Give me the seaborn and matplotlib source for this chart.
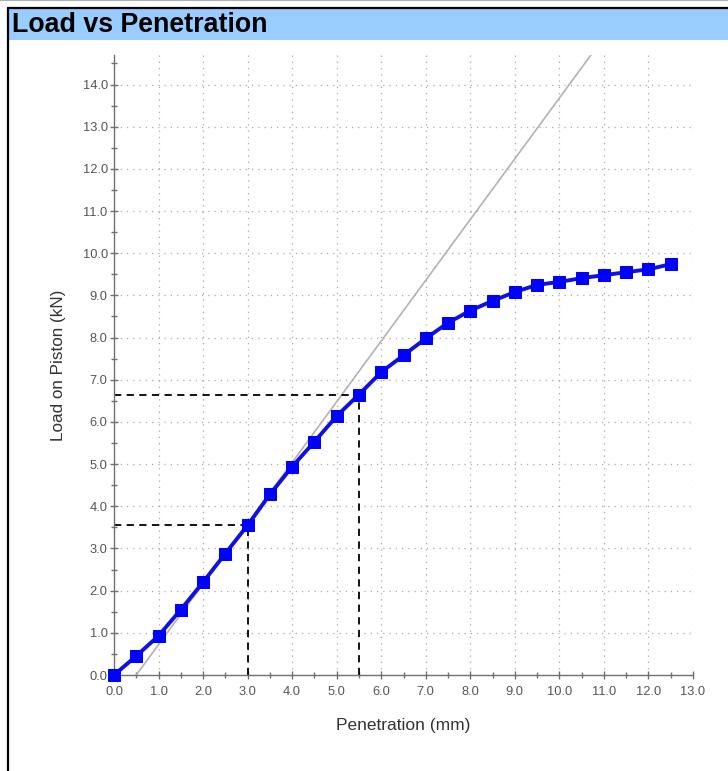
import matplotlib
matplotlib.use("Agg")
import matplotlib.pyplot as plt
from matplotlib.patches import Rectangle
from matplotlib.lines import Line2D
from matplotlib.ticker import MultipleLocator, FormatStrFormatter
import seaborn as sns
import pandas as pd

# Penetration readings (mm) and measured load on the piston (kN)
penetration = [0.0, 0.5, 1.0, 1.5, 2.0, 2.5, 3.0, 3.5, 4.0, 4.5, 5.0, 5.5, 6.0,
               6.5, 7.0, 7.5, 8.0, 8.5, 9.0, 9.5, 10.0, 10.5, 11.0, 11.5, 12.0, 12.5]
load = [0.0, 0.45, 0.93, 1.55, 2.2, 2.88, 3.55, 4.28, 4.94, 5.53, 6.14, 6.65, 7.18,
        7.58, 7.98, 8.35, 8.64, 8.87, 9.08, 9.25, 9.32, 9.41, 9.48, 9.55, 9.62, 9.74]

# Corrected tangent line (start and end points)
tangent_x = [0.5, 11.0]
tangent_y = [0.0, 15.12]

# Reference penetrations and the loads read at them
ref_pen = [3.0, 5.5]
ref_load = [3.55, 6.65]

sns.set_style("white")
plt.rcParams["font.family"] = ["Liberation Sans", "DejaVu Sans"]

df = pd.DataFrame({"Penetration (mm)": penetration, "Load on Piston (kN)": load})

fig = plt.figure(figsize=(7.28, 7.71), dpi=100)

# Panel frame and title bar
fig.add_artist(Line2D([0, 1], [0.9995, 0.9995], color="#b0b0b0", lw=1.5,
                      transform=fig.transFigure))
fig.add_artist(Rectangle((9 / 728, 1 - 40 / 771), 1, 31 / 771, transform=fig.transFigure,
                         facecolor="#99ccff", edgecolor="none"))
fig.add_artist(Line2D([8 / 728, 8 / 728], [0, 1 - 8 / 771], color="black", lw=1.6,
                      transform=fig.transFigure))
fig.add_artist(Line2D([8 / 728, 1], [1 - 8 / 771, 1 - 8 / 771], color="black", lw=1.6,
                      transform=fig.transFigure))
fig.text(12 / 728, 1 - 24.5 / 771, "Load vs Penetration", fontsize=19.3, fontweight="bold",
         va="center", ha="left", color="black")

ax = fig.add_axes([114 / 728, 1 - 675 / 771, (693 - 114) / 728, (675 - 55) / 771])

# Dotted grid at whole units
for gx in range(1, 14):
    ax.axvline(gx, color="#a8a8a8", lw=0.9, ls=(0, (1, 4)), zorder=0)
for gy in range(1, 15):
    ax.axhline(gy, color="#a8a8a8", lw=0.9, ls=(0, (1, 4)), zorder=0)

# Tangent line
ax.plot(tangent_x, tangent_y, color="#b8b0b0", lw=1.2, zorder=1)

# Dashed reference lines from the axes to the curve
for px, py in zip(ref_pen, ref_load):
    ax.plot([0, px], [py, py], color="black", lw=1.3, ls=(0, (4, 3)), zorder=2)
    ax.plot([px, px], [0, py], color="black", lw=1.3, ls=(0, (4, 3)), zorder=2)

sns.lineplot(data=df, x="Penetration (mm)", y="Load on Piston (kN)", ax=ax,
             color="#1010e0", lw=2.8, marker="s", markersize=8.5,
             markerfacecolor="#0000ff", markeredgecolor="#0000ff", zorder=3, clip_on=False)

ax.set_xlim(0, 13.0)
ax.set_ylim(0, 14.7)
ax.xaxis.set_major_locator(MultipleLocator(1.0))
ax.xaxis.set_minor_locator(MultipleLocator(0.5))
ax.yaxis.set_major_locator(MultipleLocator(1.0))
ax.yaxis.set_minor_locator(MultipleLocator(0.5))
ax.xaxis.set_major_formatter(FormatStrFormatter("%.1f"))
ax.yaxis.set_major_formatter(FormatStrFormatter("%.1f"))

for side in ("top", "right"):
    ax.spines[side].set_visible(False)
for side in ("left", "bottom"):
    ax.spines[side].set_color("#707070")
    ax.spines[side].set_linewidth(1.0)

ax.tick_params(which="both", direction="inout", color="#707070", width=1.0,
               labelcolor="#555555", labelsize=9.3, bottom=True, left=True)
ax.tick_params(axis="x", which="major", length=6, pad=5)
ax.tick_params(axis="y", which="major", length=6, pad=1.5)
ax.tick_params(which="minor", length=5)

ax.set_xlabel("Penetration (mm)", fontsize=12.5, color="#333333", labelpad=14)
ax.set_ylabel("Load on Piston (kN)", fontsize=12.3, color="#333333", labelpad=12)

fig.savefig("out.png", dpi=100)
